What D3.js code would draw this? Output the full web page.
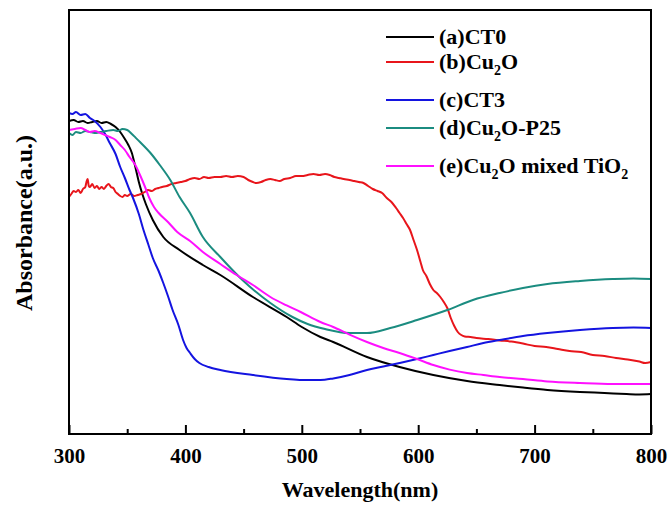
<!DOCTYPE html>
<html>
<head>
<meta charset="utf-8">
<script src="https://cdn.jsdelivr.net/npm/d3@7"></script>
<style>
  body { margin: 0; background: #fff; }
  text { font-family: "Liberation Serif", "Times New Roman", serif; font-weight: bold; }
</style>
</head>
<body>
<div id="chart"></div>
<script>
// spectra: [wavelength nm, absorbance a.u.]
var ct0 = [[300,1.565],[304,1.57],[308,1.56],[312,1.565],[316,1.555],[320,1.56],[324,1.565],[328,1.555],[332,1.56],[336,1.55],[340,1.535],[344,1.51],[348,1.475],[351,1.445],[354,1.405],[357,1.335],[360,1.26],[363,1.2],[366,1.15],[372,1.07],[381,0.985],[395,0.92],[415,0.845],[430,0.795],[458,0.685],[487,0.585],[500,0.535],[516,0.485],[527,0.46],[556,0.385],[584,0.335],[613,0.295],[642,0.265],[670,0.245],[690,0.232],[711,0.22],[739,0.21],[760,0.205],[779,0.2],[790,0.198],[800,0.2]];

var cu2o = [[300,1.185],[302,1.2],[304,1.215],[306,1.21],[308,1.22],[310,1.205],[312,1.225],[314,1.235],[315,1.26],[316,1.275],[317,1.24],[318,1.235],[320,1.25],[322,1.23],[324,1.24],[326,1.225],[328,1.235],[330,1.225],[332,1.24],[334,1.25],[336,1.235],[338,1.23],[340,1.21],[342,1.2],[344,1.19],[346,1.185],[348,1.195],[350,1.19],[353,1.2],[356,1.19],[359,1.195],[362,1.2],[365,1.21],[368,1.22],[371,1.215],[374,1.225],[377,1.23],[380,1.235],[384,1.24],[388,1.25],[392,1.255],[396,1.26],[400,1.265],[404,1.275],[408,1.28],[412,1.275],[416,1.285],[420,1.28],[425,1.285],[430,1.285],[435,1.29],[440,1.285],[445,1.29],[450,1.285],[454,1.27],[458,1.26],[461,1.255],[465,1.26],[469,1.27],[473,1.275],[477,1.27],[481,1.265],[485,1.275],[490,1.28],[495,1.29],[500,1.29],[505,1.295],[510,1.3],[515,1.295],[520,1.3],[524,1.295],[528,1.285],[532,1.28],[536,1.275],[541,1.27],[545,1.265],[549,1.26],[553,1.255],[557,1.24],[561,1.225],[565,1.215],[569,1.205],[573,1.18],[577,1.16],[581,1.13],[584,1.105],[587,1.08],[590,1.05],[593,1.02],[596,0.97],[599,0.92],[602,0.86],[604,0.82],[607,0.79],[610,0.75],[613,0.72],[616,0.705],[619,0.685],[622,0.66],[625,0.63],[628,0.58],[631,0.54],[634,0.51],[637,0.495],[640,0.488],[645,0.485],[650,0.48],[660,0.475],[670,0.468],[680,0.462],[690,0.452],[700,0.44],[710,0.435],[720,0.425],[730,0.415],[740,0.41],[750,0.395],[760,0.39],[770,0.38],[780,0.372],[790,0.362],[795,0.355],[800,0.36]];

var ct3 = [[300,1.605],[303,1.6],[306,1.61],[310,1.595],[314,1.6],[318,1.58],[322,1.565],[327,1.535],[331,1.5],[335,1.455],[340,1.4],[344,1.335],[348,1.28],[352,1.22],[355,1.18],[360,1.1],[364,1.02],[368,0.95],[372,0.88],[377,0.815],[381,0.755],[385,0.69],[389,0.62],[394,0.545],[398,0.47],[401,0.43],[404,0.405],[408,0.375],[412,0.355],[420,0.335],[430,0.32],[458,0.295],[487,0.275],[500,0.27],[516,0.27],[527,0.278],[541,0.295],[556,0.32],[570,0.337],[584,0.355],[599,0.375],[613,0.395],[627,0.415],[642,0.435],[656,0.455],[670,0.47],[690,0.49],[711,0.505],[739,0.52],[767,0.53],[785,0.532],[800,0.53]];

var cu2oP25 = [[300,1.505],[303,1.495],[306,1.51],[310,1.505],[314,1.515],[318,1.51],[322,1.505],[327,1.51],[332,1.515],[338,1.52],[342,1.515],[346,1.525],[350,1.52],[354,1.5],[357,1.483],[361,1.46],[370,1.405],[378,1.345],[387,1.27],[395,1.185],[404,1.105],[415,0.985],[430,0.885],[449,0.77],[473,0.655],[492,0.585],[505,0.55],[520,0.525],[541,0.505],[556,0.505],[576,0.53],[599,0.57],[625,0.62],[647,0.67],[670,0.705],[690,0.73],[711,0.75],[739,0.765],[767,0.775],[785,0.778],[800,0.775]];

var mixed = [[300,1.52],[305,1.525],[310,1.53],[314,1.52],[318,1.51],[322,1.515],[327,1.505],[331,1.495],[335,1.485],[340,1.47],[344,1.445],[348,1.42],[352,1.385],[357,1.345],[361,1.295],[365,1.24],[369,1.18],[373,1.135],[377,1.105],[385,1.06],[393,1.01],[404,0.965],[415,0.91],[430,0.85],[444,0.795],[458,0.745],[473,0.685],[487,0.643],[499,0.61],[516,0.56],[527,0.535],[541,0.497],[556,0.46],[570,0.43],[584,0.405],[599,0.375],[613,0.345],[627,0.322],[642,0.305],[656,0.295],[670,0.285],[690,0.275],[711,0.263],[739,0.255],[767,0.25],[785,0.25],[800,0.25]];

var series = [ct0, cu2o, ct3, cu2oP25, mixed];
var seriesNames = ["(a)CT0", "(b)Cu_2O", "(c)CT3", "(d)Cu_2O-P25", "(e)Cu_2O mixed TiO_2"];
var seriesColors = ["#000000", "#e8151b", "#1414e0", "#1b8c80", "#ff10ff"];
var legendRowY = [37, 62, 100, 128, 166];
var majorTicks = [300, 400, 500, 600, 700, 800];
var minorTicks = [350, 450, 550, 650, 750];

function drawChart() {
    var width = 668, height = 508;
    var plotL = 69, plotR = 651, plotT = 10, plotB = 434;

    var svg = d3.select("#chart").append("svg")
        .attr("width", width)
        .attr("height", height);

    var x = d3.scaleLinear().domain([300, 800]).range([plotL, plotR]);
    var y = d3.scaleLinear().domain([0, 2.12]).range([plotB, plotT]);

    var line = d3.line()
        .x(function (d) { return x(d[0]); })
        .y(function (d) { return y(d[1]); })
        .curve(d3.curveMonotoneX);

    svg.append("defs").append("clipPath").attr("id", "clip")
        .append("rect").attr("x", plotL).attr("y", plotT)
        .attr("width", plotR - plotL).attr("height", plotB - plotT);

    svg.append("g").attr("clip-path", "url(#clip)")
        .selectAll("path")
        .data(series)
        .enter()
        .append("path")
        .attr("d", line)
        .attr("fill", "none")
        .attr("stroke", function (d, i) { return seriesColors[i]; })
        .attr("stroke-width", 2)
        .attr("stroke-linejoin", "round");

    // bottom axis, ticks pointing inside
    var xAxis = d3.axisBottom(x).tickValues(majorTicks).tickSizeInner(-9).tickSizeOuter(0).tickPadding(20);
    var gx = svg.append("g").attr("transform", "translate(0," + plotB + ")").call(xAxis);
    gx.select(".domain").remove();
    gx.selectAll(".tick line").attr("stroke", "#000").attr("stroke-width", 2);
    gx.selectAll(".tick text")
        .attr("y", 29)
        .attr("dy", null)
        .attr("font-size", 21)
        .attr("font-family", "Liberation Serif")
        .attr("font-weight", "bold")
        .attr("fill", "#000");

    var xMinor = d3.axisBottom(x).tickValues(minorTicks).tickSizeInner(-5).tickSizeOuter(0).tickFormat("");
    var gm = svg.append("g").attr("transform", "translate(0," + plotB + ")").call(xMinor);
    gm.select(".domain").remove();
    gm.selectAll(".tick text").remove();
    gm.selectAll(".tick line").attr("stroke", "#000").attr("stroke-width", 2);

    // frame
    svg.append("rect")
        .attr("x", plotL).attr("y", plotT)
        .attr("width", plotR - plotL).attr("height", plotB - plotT)
        .attr("fill", "none").attr("stroke", "#000").attr("stroke-width", 2);

    svg.append("text")
        .attr("x", (plotL + plotR) / 2).attr("y", 497)
        .attr("text-anchor", "middle")
        .attr("font-size", 22)
        .text("Wavelength(nm)");

    svg.append("text")
        .attr("transform", "translate(32,223) rotate(-90)")
        .attr("text-anchor", "middle")
        .attr("font-size", 24)
        .text("Absorbance(a.u.)");

    // legend
    var leg = svg.append("g");
    seriesNames.forEach(function (name, i) {
        var ly = legendRowY[i];
        leg.append("line")
            .attr("x1", 386).attr("x2", 434)
            .attr("y1", ly).attr("y2", ly)
            .attr("stroke", seriesColors[i]).attr("stroke-width", 2);
        var t = leg.append("text")
            .attr("x", 439).attr("y", ly + 7)
            .attr("font-size", 22);
        var shift = 0;
        name.split(/(_2)/).forEach(function (part) {
            if (!part) return;
            if (part === "_2") {
                t.append("tspan").attr("font-size", 14).attr("dy", 6).text("2");
                shift = -6;
            } else {
                t.append("tspan").attr("dy", shift).text(part);
                shift = 0;
            }
        });
    });
}

drawChart();
</script>
</body>
</html>
